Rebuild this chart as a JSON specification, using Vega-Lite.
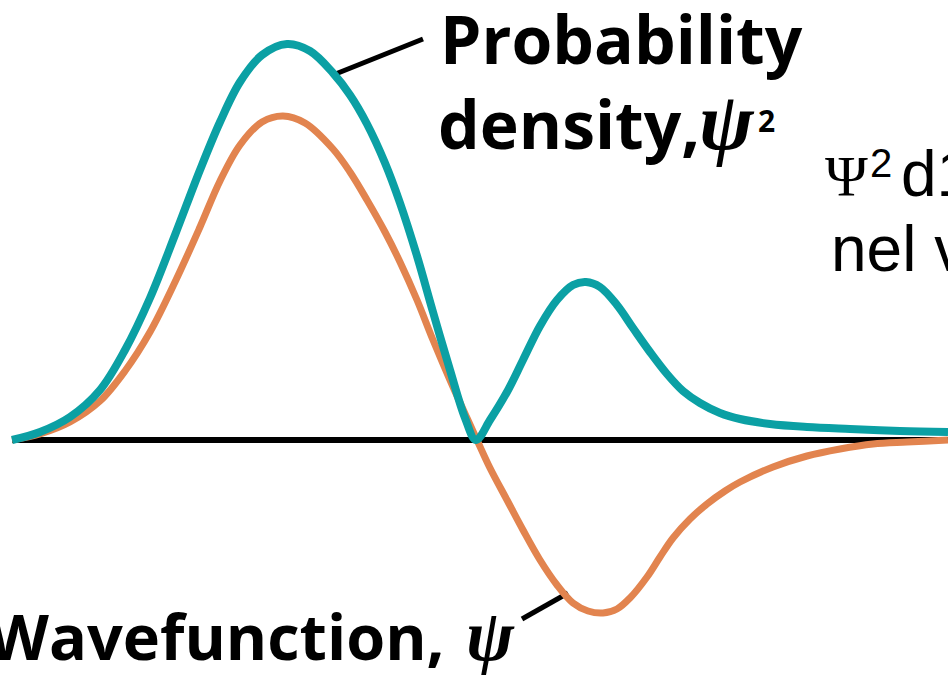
{
  "$schema": "https://vega.github.io/schema/vega-lite/v6.json",
  "width": 948,
  "height": 676,
  "autosize": "none",
  "padding": 0,
  "background": "white",
  "config": {"view": {"stroke": null}},
  "datasets": {
    "density": [
      {"x": 12, "y": 0}, {"x": 40, "y": 8}, {"x": 70, "y": 23}, {"x": 100, "y": 50}, {"x": 125, "y": 90},
      {"x": 150, "y": 142}, {"x": 175, "y": 205}, {"x": 200, "y": 270}, {"x": 220, "y": 318}, {"x": 240, "y": 358},
      {"x": 262, "y": 385}, {"x": 287, "y": 396}, {"x": 310, "y": 389}, {"x": 333, "y": 367}, {"x": 350, "y": 345},
      {"x": 367, "y": 316}, {"x": 385, "y": 277}, {"x": 400, "y": 237}, {"x": 417, "y": 184}, {"x": 433, "y": 128},
      {"x": 450, "y": 70}, {"x": 465, "y": 22}, {"x": 476, "y": 0}, {"x": 490, "y": 20}, {"x": 507, "y": 48},
      {"x": 523, "y": 80}, {"x": 540, "y": 114}, {"x": 557, "y": 140}, {"x": 573, "y": 155}, {"x": 586, "y": 158},
      {"x": 600, "y": 153}, {"x": 617, "y": 135}, {"x": 633, "y": 112}, {"x": 650, "y": 88}, {"x": 667, "y": 66},
      {"x": 683, "y": 49}, {"x": 700, "y": 37}, {"x": 720, "y": 27}, {"x": 740, "y": 21}, {"x": 770, "y": 16},
      {"x": 807, "y": 13}, {"x": 850, "y": 11}, {"x": 900, "y": 9}, {"x": 948, "y": 8}
    ],
    "psi": [
      {"x": 12, "y": 0}, {"x": 40, "y": 6}, {"x": 70, "y": 18}, {"x": 100, "y": 39}, {"x": 125, "y": 69},
      {"x": 150, "y": 108}, {"x": 175, "y": 158}, {"x": 200, "y": 213}, {"x": 220, "y": 259}, {"x": 240, "y": 295},
      {"x": 262, "y": 318}, {"x": 283, "y": 324}, {"x": 305, "y": 317}, {"x": 333, "y": 291}, {"x": 350, "y": 268},
      {"x": 367, "y": 240}, {"x": 385, "y": 208}, {"x": 400, "y": 178}, {"x": 417, "y": 140}, {"x": 433, "y": 100},
      {"x": 450, "y": 60}, {"x": 467, "y": 22}, {"x": 477, "y": 0}, {"x": 490, "y": -28}, {"x": 507, "y": -60},
      {"x": 523, "y": -90}, {"x": 540, "y": -120}, {"x": 557, "y": -145}, {"x": 573, "y": -163}, {"x": 588, "y": -171},
      {"x": 603, "y": -173}, {"x": 617, "y": -169}, {"x": 630, "y": -158}, {"x": 647, "y": -137}, {"x": 660, "y": -117},
      {"x": 673, "y": -98}, {"x": 690, "y": -79}, {"x": 707, "y": -64}, {"x": 725, "y": -51}, {"x": 740, "y": -42},
      {"x": 773, "y": -27}, {"x": 807, "y": -16}, {"x": 840, "y": -9}, {"x": 873, "y": -4}, {"x": 907, "y": -2},
      {"x": 948, "y": 0}
    ],
    "rules": [
      {"x": 12, "y": 0, "x2": 948, "y2": 0, "w": 6},
      {"x": 333, "y": 365, "x2": 423, "y2": 401, "w": 5},
      {"x": 522, "y": -179, "x2": 568, "y2": -153, "w": 5}
    ],
    "boldLabels": [
      {"x": 440, "y": 376, "label": "Probability", "s": 66},
      {"x": 438, "y": 291, "label": "density,", "s": 66},
      {"x": -12, "y": -220, "label": "Wavefunction,", "s": 63},
      {"x": 758, "y": 308, "label": "2", "s": 30}
    ],
    "psiLabels": [
      {"x": 699, "y": 291, "label": "ψ", "s": 82},
      {"x": 466, "y": -220, "label": "ψ", "s": 72}
    ],
    "sansText": [
      {"x": 901, "y": 244, "label": "d1", "s": 64},
      {"x": 870, "y": 263, "label": "2", "s": 40},
      {"x": 831, "y": 169, "label": "nel v", "s": 64}
    ],
    "serifText": [
      {"x": 825, "y": 244, "label": "Ψ"}
    ]
  },
  "layer": [
    {
      "data": {"name": "rules"},
      "mark": {"type": "rule", "color": "#000000", "strokeCap": "butt"},
      "encoding": {
        "x": {"field": "x", "type": "quantitative", "scale": {"domain": [0, 948], "nice": false, "zero": false}, "axis": null},
        "y": {"field": "y", "type": "quantitative", "scale": {"domain": [-236, 440], "nice": false, "zero": false}, "axis": null},
        "x2": {"field": "x2"},
        "y2": {"field": "y2"},
        "strokeWidth": {"field": "w", "type": "quantitative", "scale": null}
      }
    },
    {
      "data": {"name": "psi"},
      "mark": {"type": "line", "color": "#e2844f", "strokeWidth": 7, "interpolate": "catmull-rom"},
      "encoding": {
        "x": {"field": "x", "type": "quantitative"},
        "y": {"field": "y", "type": "quantitative"}
      }
    },
    {
      "data": {"name": "density"},
      "mark": {"type": "line", "color": "#0ba0a4", "strokeWidth": 8, "interpolate": "catmull-rom"},
      "encoding": {
        "x": {"field": "x", "type": "quantitative"},
        "y": {"field": "y", "type": "quantitative"}
      }
    },
    {
      "data": {"name": "boldLabels"},
      "mark": {"type": "text", "align": "left", "baseline": "alphabetic", "font": "Open Sans", "fontWeight": "bold", "color": "#000000"},
      "encoding": {
        "x": {"field": "x", "type": "quantitative"},
        "y": {"field": "y", "type": "quantitative"},
        "text": {"field": "label"},
        "size": {"field": "s", "type": "quantitative", "scale": null}
      }
    },
    {
      "data": {"name": "psiLabels"},
      "mark": {"type": "text", "align": "left", "baseline": "alphabetic", "font": "Liberation Serif", "fontStyle": "italic", "fontWeight": "bold", "color": "#000000"},
      "encoding": {
        "x": {"field": "x", "type": "quantitative"},
        "y": {"field": "y", "type": "quantitative"},
        "text": {"field": "label"},
        "size": {"field": "s", "type": "quantitative", "scale": null}
      }
    },
    {
      "data": {"name": "sansText"},
      "mark": {"type": "text", "align": "left", "baseline": "alphabetic", "font": "Liberation Sans", "color": "#000000"},
      "encoding": {
        "x": {"field": "x", "type": "quantitative"},
        "y": {"field": "y", "type": "quantitative"},
        "text": {"field": "label"},
        "size": {"field": "s", "type": "quantitative", "scale": null}
      }
    },
    {
      "data": {"name": "serifText"},
      "mark": {"type": "text", "align": "left", "baseline": "alphabetic", "font": "Liberation Serif", "fontSize": 58, "color": "#000000"},
      "encoding": {
        "x": {"field": "x", "type": "quantitative"},
        "y": {"field": "y", "type": "quantitative"},
        "text": {"field": "label"}
      }
    }
  ]
}
